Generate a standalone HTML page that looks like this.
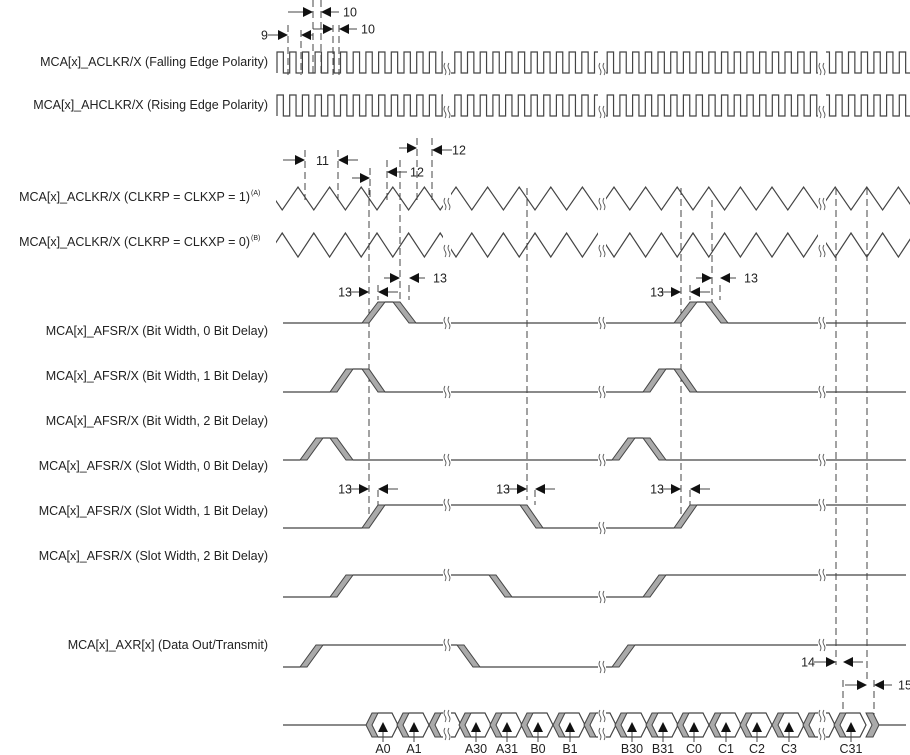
<!DOCTYPE html>
<html><head><meta charset="utf-8"><style>
body{margin:0;background:#fff}
svg{display:block;font-family:"Liberation Sans",sans-serif}
text{font-size:12.5px;fill:#222}
</style></head><body>
<svg id="s" width="910" height="755" xmlns="http://www.w3.org/2000/svg">
<defs><clipPath id="c"><rect x="276" y="0" width="634" height="755"/></clipPath></defs>
<g id="lbl" text-anchor="end">
<text x="268" y="66">MCA[x]_ACLKR/X (Falling Edge Polarity)</text>
<text x="268" y="109">MCA[x]_AHCLKR/X (Rising Edge Polarity)</text>
<text x="250" y="201">MCA[x]_ACLKR/X (CLKRP = CLKXP = 1)</text>
<text x="250" y="246">MCA[x]_ACLKR/X (CLKRP = CLKXP = 0)</text>
<text x="268" y="335">MCA[x]_AFSR/X (Bit Width, 0 Bit Delay)</text>
<text x="268" y="380">MCA[x]_AFSR/X (Bit Width, 1 Bit Delay)</text>
<text x="268" y="425">MCA[x]_AFSR/X (Bit Width, 2 Bit Delay)</text>
<text x="268" y="470">MCA[x]_AFSR/X (Slot Width, 0 Bit Delay)</text>
<text x="268" y="515">MCA[x]_AFSR/X (Slot Width, 1 Bit Delay)</text>
<text x="268" y="560">MCA[x]_AFSR/X (Slot Width, 2 Bit Delay)</text>
<text x="268" y="649">MCA[x]_AXR[x] (Data Out/Transmit)</text>
</g>
<text x="251" y="195" style="font-size:7px">(A)</text>
<text x="251" y="240" style="font-size:7px">(B)</text>
<g id="w" fill="none" stroke="#444" stroke-width="1.2" clip-path="url(#c)"></g>
<g id="g" fill="none" stroke="#444" stroke-width="1.2"></g>
</svg>
<script>
const g=document.getElementById('g');const w=document.getElementById('w');const NS='http://www.w3.org/2000/svg';
function el(t,a,p){const e=document.createElementNS(NS,t);for(const k in a)e.setAttribute(k,a[k]);(p||g).appendChild(e);return e;}
function P(d,a,p){return el('path',Object.assign({d:d},a||{}),p);}
function T(x,y,s,anc){const e=el('text',{x:x,y:y,'text-anchor':anc||'start',stroke:'none'});e.textContent=s;}
function brk(x,y,p){P(`M${x-2} ${y-6}q-2 3 0 6t0 6M${x+2} ${y-6}q-2 3 0 6t0 6`,{'stroke-width':0.8},p);}
function sq(y1,y2,x0,per){let d=`M${x0} ${y2}`;for(let x=x0;x<912;x+=per){d+=`V${y1}H${x+per/2}V${y2}H${x+per}`;}P(d,{},w);[447,602,822].forEach(b=>{el('rect',{x:b-4,y:y1-1,width:8,height:y2-y1+3,fill:'#fff',stroke:'none'},w);brk(b,y2-4,w);});}
sq(52,73,277,12.7);sq(95,116,277,12.7);
function tri(yp,yt,firstPeak){let x=firstPeak-31.6;let d=`M${x} ${yp}`;for(;x<912;x+=31.6){d+=`L${x+15.8} ${yt}L${x+31.6} ${yp}`;}P(d,{},w);[447,602,822].forEach(b=>{el('rect',{x:b-4,y:yp-1,width:8,height:Math.abs(yt-yp)+2,fill:'#fff',stroke:'none'},w);brk(b,Math.max(yt,yp)-6,w);});}
tri(187,210,298);tri(233,257,298-15.8);
const D={'stroke-dasharray':'7 4','stroke-width':1};
[[369,188,520],[400,160,305],[527,188,500],[681,188,520],[712,200,305],[836,188,665],[867,188,680]].forEach(a=>P(`M${a[0]} ${a[1]}V${a[2]}`,D));
[[305,150,200],[338,150,200],[370,168,200],[387,160,200],[417,138,200],[432,138,200],[288,25,75],[313,0,75],[321,0,75],[301,30,75],[333,25,75],[339,25,75],[843,680,715],[874,680,715],[378,285,300],[409,285,300],[690,285,300],[720,285,300],[378,490,505],[535,490,505],[690,490,505]].forEach(a=>P(`M${a[0]} ${a[1]}V${a[2]}`,D));
function arr(x,y,dir,len,label,lx){const s=x-dir*len;P(`M${s} ${y}H${x-dir*9}`,{'stroke-width':1});el('path',{d:`M${x} ${y}l${-dir*10} -5v10z`,fill:'#111',stroke:'none'});
 if(label)T(lx,y+4.5,label,dir>0?'end':'start');}
arr(288,35,1,20,'9',268);arr(301,35,-1,12);
arr(313,12,1,25);arr(321,12,-1,18,'10',343);
arr(333,29,1,20);arr(339,29,-1,18,'10',361);
arr(305,160,1,22);arr(338,160,-1,20);T(316,165,'11');
arr(370,178,1,18);arr(387,172,-1,20,'12',410);
arr(417,148,1,18);arr(432,150,-1,20,'12',452);
arr(369,292,1,22,'13',352);arr(378,292,-1,20);
arr(400,278,1,16);arr(409,278,-1,16,'13',433);
arr(681,292,1,22,'13',664);arr(690,292,-1,20);
arr(712,278,1,16);arr(720,278,-1,16,'13',744);
arr(369,489,1,22,'13',352);arr(378,489,-1,20);
arr(527,489,1,22,'13',510);arr(535,489,-1,20);
arr(681,489,1,22,'13',664);arr(690,489,-1,20);
arr(836,662,1,22,'14',815);arr(843,662,-1,20);
arr(867,685,1,22);arr(874,685,-1,18,'15',898);
function ramp(x,yl,yh,up){const wd=16,t=7;let p;if(up)p=`M${x} ${yl}L${x+wd} ${yh}H${x+wd+t}L${x+t} ${yl}Z`;else p=`M${x} ${yh}H${x+t}L${x+t+wd} ${yl}H${x+wd}Z`;el('path',{d:p,fill:'#aaa',stroke:'#444','stroke-width':1});}
function sig(yl,yh,segs){let d=`M283 ${yl}`;segs.forEach(s=>{d+=`H${s[0]}`;const nv=s[1]?yh:yl;d+=`M${s[0]+23} ${nv}`;});d+=`H906`;P(d);segs.forEach(s=>ramp(s[0],yl,yh,s[1]));}
const B=[447,602,822];
function row(yl,yh,segs){sig(yl,yh,segs);B.forEach(b=>{let lvl=yl;segs.forEach(s=>{if(s[0]<b)lvl=s[1]?yh:yl;});el('rect',{x:b-4,y:lvl-2,width:8,height:4,fill:'#fff',stroke:'none'});brk(b,lvl);});}
row(323,302,[[362,1],[393,0],[674,1],[705,0]]);
row(392,369,[[330,1],[362,0],[643,1],[674,0]]);
row(460,438,[[300,1],[330,0],[612,1],[643,0]]);
row(528,505,[[362,1],[520,0],[674,1]]);
row(597,575,[[330,1],[489,0],[643,1]]);
row(667,645,[[300,1],[457,0],[612,1]]);
// data
P('M283 725H366');P('M878 725H906');
const cells=[[383,'A0'],[414,'A1'],[446,''],[476,'A30'],[507,'A31'],[538,'B0'],[570,'B1'],[601,''],[632,'B30'],[663,'B31'],[694,'C0'],[726,'C1'],[757,'C2'],[789,'C3'],[820,''],[851,'C31']];
cells.forEach(cc=>{const b=cc[0]-17;
 el('path',{d:`M${b} 725L${b+6} 713H${b+12}L${b+6} 725L${b+12} 737H${b+6}Z`,fill:'#aaa',stroke:'#444','stroke-width':1});
 P(`M${b+12} 713H${b+26}L${b+32} 725L${b+26} 737H${b+12}`);
 if(cc[1]){const m=cc[0];el('path',{d:`M${m-5} 732l5 -10l5 10z`,fill:'#111',stroke:'none'});P(`M${m} 732V742`,{'stroke-width':1});T(m,753,cc[1],'middle');}});
el('path',{d:'M866 713h7l6 12l-6 12h-7l6 -12z',fill:'#aaa',stroke:'#444','stroke-width':1});
B.forEach(b=>{el('rect',{x:b-4,y:708,width:8,height:34,fill:'#fff',stroke:'none'});brk(b,716);brk(b,734);});
</script>
</body></html>
